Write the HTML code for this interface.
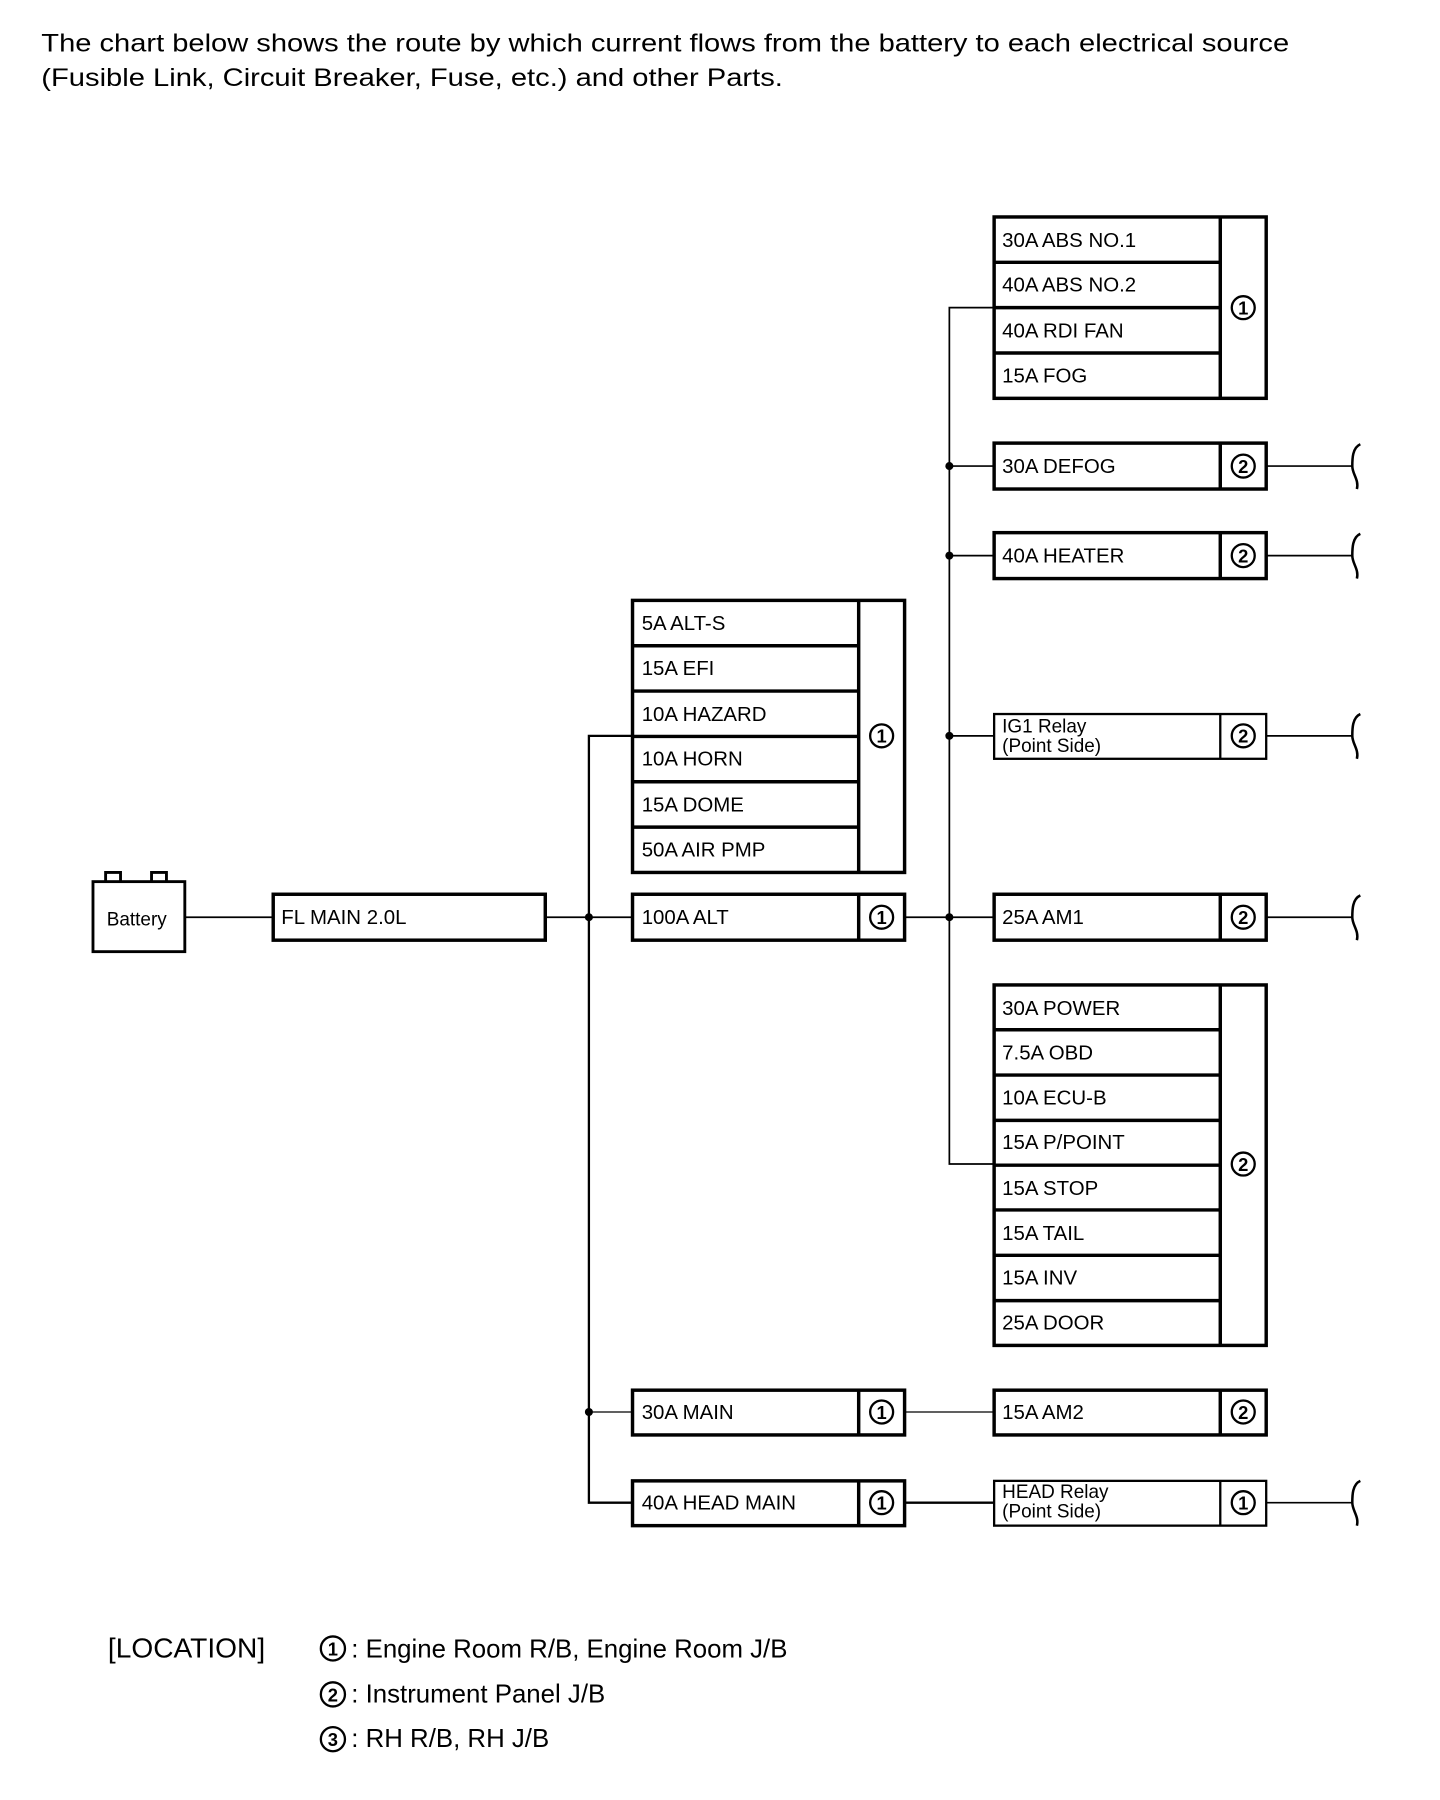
<!DOCTYPE html>
<html><head><meta charset="utf-8"><style>
html,body{margin:0;padding:0;background:#fff;}
svg{display:block;}
text{font-family:"Liberation Sans",Arial,sans-serif;fill:#000;}
</style></head><body>
<svg width="1440" height="1800" viewBox="0 0 1254.4 1568" xmlns="http://www.w3.org/2000/svg">
<text x="36" y="45" font-size="21.5" textLength="1087" lengthAdjust="spacingAndGlyphs">The chart below shows the route by which current flows from the battery to each electrical source</text>
<text x="36" y="75" font-size="21.5" textLength="646" lengthAdjust="spacingAndGlyphs">(Fusible Link, Circuit Breaker, Fuse, etc.) and other Parts.</text>

<g fill="none" stroke="#000">
<rect x="81" y="768" width="80" height="61" stroke-width="2.5"/>
<path d="M92,768 V760 H105 V768 M132,768 V760 H145 V768" stroke-width="2.5"/>
<line x1="161" y1="799" x2="238" y2="799" stroke-width="1.5"/>
<rect x="238" y="779" width="237" height="40" stroke-width="3"/>
<line x1="475" y1="799" x2="551" y2="799" stroke-width="1.5"/>
<path d="M551,641 H513 V1309 H551" stroke-width="2"/>
<line x1="513" y1="1230" x2="551" y2="1230" stroke-width="1"/>
<rect x="551" y="523" width="237" height="237" stroke-width="3"/>
<line x1="748" y1="523" x2="748" y2="760" stroke-width="3"/>
<path d="M551,562.5 H748 M551,602 H748 M551,641.5 H748 M551,681 H748 M551,720.5 H748" stroke-width="3"/>
<rect x="551" y="779" width="237" height="40" stroke-width="3"/>
<line x1="748" y1="779" x2="748" y2="819" stroke-width="3"/>
<rect x="551" y="1211" width="237" height="39" stroke-width="3"/>
<line x1="748" y1="1211" x2="748" y2="1250" stroke-width="3"/>
<rect x="551" y="1290" width="237" height="39" stroke-width="3"/>
<line x1="748" y1="1290" x2="748" y2="1329" stroke-width="3"/>
<line x1="788" y1="799" x2="866" y2="799" stroke-width="1.5"/>
<line x1="788" y1="1230" x2="866" y2="1230" stroke-width="1"/>
<line x1="788" y1="1309" x2="866" y2="1309" stroke-width="2"/>
<path d="M866,268 H827 V1014 H866" stroke-width="1.5"/>
<path d="M827,406 H866 M827,484 H866 M827,641 H866" stroke-width="1.5"/>
<rect x="866" y="189" width="237" height="158" stroke-width="3"/>
<line x1="1063" y1="189" x2="1063" y2="347" stroke-width="3"/>
<path d="M866,228.5 H1063 M866,268 H1063 M866,307.5 H1063" stroke-width="3"/>
<rect x="866" y="386" width="237" height="40" stroke-width="3"/>
<line x1="1063" y1="386" x2="1063" y2="426" stroke-width="3"/>
<rect x="866" y="464" width="237" height="40" stroke-width="3"/>
<line x1="1063" y1="464" x2="1063" y2="504" stroke-width="3"/>
<rect x="866" y="622" width="237" height="39" stroke-width="2"/>
<line x1="1063" y1="622" x2="1063" y2="661" stroke-width="2"/>
<rect x="866" y="779" width="237" height="40" stroke-width="3"/>
<line x1="1063" y1="779" x2="1063" y2="819" stroke-width="3"/>
<rect x="866" y="858" width="237" height="314" stroke-width="3"/>
<line x1="1063" y1="858" x2="1063" y2="1172" stroke-width="3"/>
<path d="M866,897 H1063 M866,936.5 H1063 M866,976 H1063 M866,1015 H1063 M866,1054 H1063 M866,1093.5 H1063 M866,1133 H1063" stroke-width="3"/>
<rect x="866" y="1211" width="237" height="39" stroke-width="3"/>
<line x1="1063" y1="1211" x2="1063" y2="1250" stroke-width="3"/>
<rect x="866" y="1290" width="237" height="39" stroke-width="2"/>
<line x1="1063" y1="1290" x2="1063" y2="1329" stroke-width="2"/>
<g stroke-width="1.5">
<path d="M1103,406 H1178 M1103,484 H1178 M1103,641 H1178 M1103,799 H1178 M1103,1309 H1178"/>
</g>
<g stroke-width="2.2">
<path d="M1185,387 C1178,390 1178,400 1178,406 C1178,413 1184,418 1182,426"/>
<path d="M1185,465 C1178,468 1178,478 1178,484 C1178,491 1184,496 1182,504"/>
<path d="M1185,622 C1178,625 1178,635 1178,641 C1178,648 1184,653 1182,661"/>
<path d="M1185,780 C1178,783 1178,793 1178,799 C1178,806 1184,811 1182,819"/>
<path d="M1185,1290 C1178,1293 1178,1303 1178,1309 C1178,1316 1184,1321 1182,1329"/>
</g>
<g stroke-width="2">
<circle cx="768" cy="641" r="10"/><circle cx="768" cy="799" r="10"/><circle cx="768" cy="1230" r="10"/><circle cx="768" cy="1309" r="10"/>
<circle cx="1083" cy="268" r="10"/><circle cx="1083" cy="406" r="10"/><circle cx="1083" cy="484" r="10"/><circle cx="1083" cy="641" r="10"/><circle cx="1083" cy="799" r="10"/><circle cx="1083" cy="1014" r="10"/><circle cx="1083" cy="1230" r="10"/><circle cx="1083" cy="1309" r="10"/>
<circle cx="290" cy="1436" r="10.5"/><circle cx="290" cy="1476" r="10.5"/><circle cx="290" cy="1515" r="10.5"/>
</g>
</g>
<g fill="#000">
<circle cx="513" cy="799" r="3.5"/><circle cx="513" cy="1230" r="3.5"/>
<circle cx="827" cy="406" r="3.5"/><circle cx="827" cy="484" r="3.5"/><circle cx="827" cy="641" r="3.5"/><circle cx="827" cy="799" r="3.5"/>
</g>
<g font-size="16" text-anchor="middle" font-weight="bold">
<text x="768" y="647">1</text><text x="768" y="805">1</text><text x="768" y="1236">1</text><text x="768" y="1315">1</text>
<text x="1083" y="274">1</text><text x="1083" y="412">2</text><text x="1083" y="490">2</text><text x="1083" y="647">2</text><text x="1083" y="805">2</text><text x="1083" y="1020">2</text><text x="1083" y="1236">2</text><text x="1083" y="1315">1</text>
<text x="290" y="1442">1</text><text x="290" y="1482">2</text><text x="290" y="1521">3</text>
</g>
<g font-size="17.8">
<text x="93" y="806" font-size="16.5">Battery</text>
<text x="245" y="805">FL MAIN 2.0L</text>
<text x="559" y="549">5A ALT-S</text>
<text x="559" y="588">15A EFI</text>
<text x="559" y="628">10A HAZARD</text>
<text x="559" y="667">10A HORN</text>
<text x="559" y="707">15A DOME</text>
<text x="559" y="746">50A AIR PMP</text>
<text x="559" y="805">100A ALT</text>
<text x="559" y="1236">30A MAIN</text>
<text x="559" y="1315">40A HEAD MAIN</text>
<text x="873" y="215">30A ABS NO.1</text>
<text x="873" y="254">40A ABS NO.2</text>
<text x="873" y="294">40A RDI FAN</text>
<text x="873" y="333">15A FOG</text>
<text x="873" y="412">30A DEFOG</text>
<text x="873" y="490">40A HEATER</text>
<text x="873" y="638" font-size="16.5">IG1 Relay</text>
<text x="873" y="655" font-size="16.5">(Point Side)</text>
<text x="873" y="805">25A AM1</text>
<text x="873" y="884">30A POWER</text>
<text x="873" y="923">7.5A OBD</text>
<text x="873" y="962">10A ECU-B</text>
<text x="873" y="1001">15A P/POINT</text>
<text x="873" y="1041">15A STOP</text>
<text x="873" y="1080">15A TAIL</text>
<text x="873" y="1119">15A INV</text>
<text x="873" y="1158">25A DOOR</text>
<text x="873" y="1236">15A AM2</text>
<text x="873" y="1305" font-size="16.5">HEAD Relay</text>
<text x="873" y="1322" font-size="16.5">(Point Side)</text>
</g>
<g font-size="22.5">
<text x="94" y="1444" font-size="24.5">[LOCATION]</text>
<text x="306" y="1444">: Engine Room R/B, Engine Room J/B</text>
<text x="306" y="1483">: Instrument Panel J/B</text>
<text x="306" y="1522">: RH R/B, RH J/B</text>
</g>
</svg>
</body></html>
